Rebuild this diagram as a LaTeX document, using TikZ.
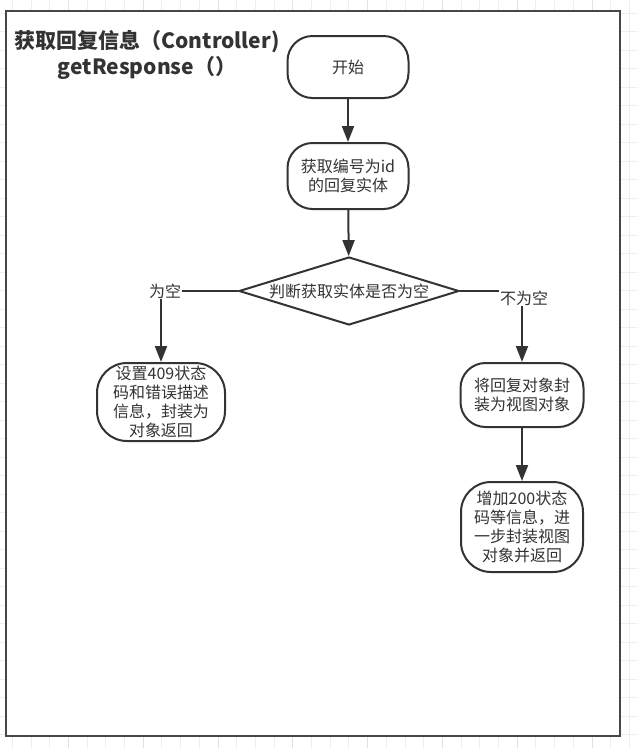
\documentclass[tikz,border=0pt]{standalone}
\usepackage{fontspec}
\setmainfont{Noto Sans CJK SC}
\usetikzlibrary{shapes.geometric,arrows.meta}
\definecolor{ln}{HTML}{333333}
\definecolor{tx}{HTML}{333333}
\definecolor{gridminor}{HTML}{EEEEEE}
\definecolor{gridmajor}{HTML}{E2E2E2}
\tikzset{
  box/.style={draw=ln, line width=2pt, rounded corners=#1, align=center, text=tx,
    font=\fontsize{16}{19}\selectfont, inner sep=0pt, fill=white},
  box/.default=25pt,
  decision/.style={draw=ln, line width=2pt, diamond, aspect=3.235, minimum width=220pt,
    minimum height=68pt, inner sep=0pt, text=tx, font=\fontsize{16}{19}\selectfont, fill=white},
  flow/.style={draw=ln, line width=2pt, -{Triangle[length=16pt,width=12pt]}},
  lbl/.style={fill=white, text=tx, font=\fontsize{16}{19}\selectfont, inner sep=1pt},
  title/.style={text=tx, align=center, font=\bfseries\fontsize{21}{26}\selectfont, inner sep=0pt}
}
\begin{document}
\begin{tikzpicture}[x=1pt,y=-1pt]
\useasboundingbox (0,0) rectangle (637,748);
\fill[white] (0,0) rectangle (637,748);
% background grid
\foreach \i in {0,...,33} {
  \pgfmathtruncatemacro{\m}{mod(\i,4)}
  \ifnum\m=3
    \draw[gridmajor, line width=0.8pt] ({12.2+18.7*\i},0) -- ({12.2+18.7*\i},748);
  \else
    \draw[gridminor, line width=0.8pt] ({12.2+18.7*\i},0) -- ({12.2+18.7*\i},748);
  \fi
}
\foreach \j in {0,...,40} {
  \draw[gridminor, line width=0.8pt] (0,{13.3+18.5*\j}) -- (637,{13.3+18.5*\j});
}
% frame
\draw[draw=ln!90, line width=2pt, fill=white] (6,11) rectangle (620,736);
% title
\node[title] (ttl) at (147,55) {获取回复信息（Controller)\\getResponse（）};
% nodes
\node[box, minimum width=121pt, minimum height=62pt] (start) at (348,67) {开始};
\node[box, minimum width=121pt, minimum height=66pt] (get) at (348,176) {获取编号为id\\的回复实体};
\node[decision] (dia) at (349,291) {判断获取实体是否为空};
\node[box=30pt, minimum width=128pt, minimum height=78pt] (left) at (161,402) {设置409状态\\码和错误描述\\信息，封装为\\对象返回};
\node[box, minimum width=123pt, minimum height=64pt] (r1) at (522,395) {将回复对象封\\装为视图对象};
\node[box=30pt, minimum width=122pt, minimum height=90pt] (r2) at (522,527) {增加200状态\\码等信息，进\\一步封装视图\\对象并返回};
% connectors
\draw[flow] (start) -- (get);
\draw[flow] (get) -- (dia);
\draw[flow] (dia.west) -| node[lbl, pos=0.5, xshift=4pt] {为空} (left.north);
\draw[flow] (dia.east) -| node[lbl, pos=0.5, yshift=-7pt, xshift=2pt] {不为空} (r1.north);
\draw[flow] (r1) -- (r2);
\end{tikzpicture}
\end{document}
